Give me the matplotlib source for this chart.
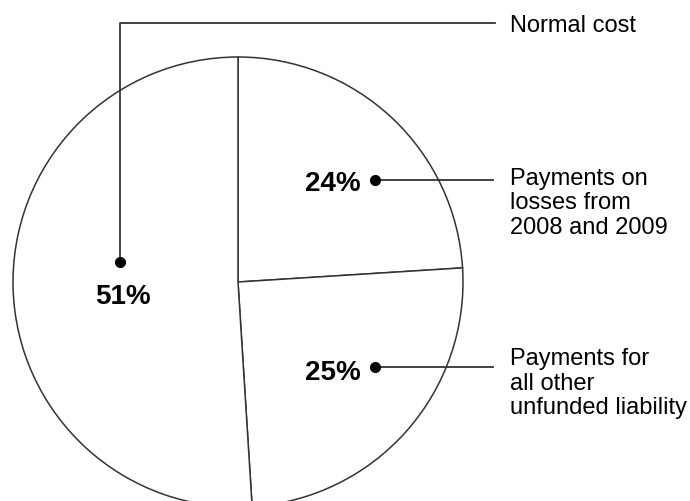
import matplotlib.pyplot as plt

# shares of the pie (clockwise from the top)
labels = ["Payments on\nlosses from\n2008 and 2009",
          "Payments for\nall other\nunfunded liability",
          "Normal cost"]
shares = [24, 25, 51]
pct_text = [f"{v}%" for v in shares]

plt.rcParams['font.family'] = ['Liberation Sans', 'DejaVu Sans']

fig = plt.figure(figsize=(6.9, 5.01), dpi=100)
ax = fig.add_axes([0, 0, 1, 1])

# pie drawn in pixel-like coordinates (y axis inverted)
ax.pie(shares, center=(238, 282), radius=225, startangle=-90, counterclock=True,
       colors=['white'] * 3,
       wedgeprops=dict(edgecolor='#333333', linewidth=1.1))

ax.set_xlim(0, 690)
ax.set_ylim(501, 0)
ax.set_aspect('equal')
ax.axis('off')

lc = '#333333'
# 24% callout
ax.plot([375, 493], [180, 180], color=lc, lw=1.3)
ax.plot(375, 180, 'o', color='black', ms=7)
ax.text(361, 191, pct_text[0], ha='right', va='baseline', fontsize=20, fontweight='bold')
ax.text(510, 168, labels[0], ha='left', va='top', fontsize=17, linespacing=1.14)

# 25% callout
ax.plot([375, 493], [367, 367], color=lc, lw=1.3)
ax.plot(375, 367, 'o', color='black', ms=7)
ax.text(361, 380, pct_text[1], ha='right', va='baseline', fontsize=20, fontweight='bold')
ax.text(510, 348.5, labels[1], ha='left', va='top', fontsize=17, linespacing=1.14)

# 51% callout
ax.plot([120, 120, 495], [262, 23, 23], color=lc, lw=1.3)
ax.plot(120, 262, 'o', color='black', ms=7)
ax.text(123, 304, pct_text[2], ha='center', va='baseline', fontsize=20, fontweight='bold')
ax.text(510, 32, labels[2], ha='left', va='baseline', fontsize=17)

fig.savefig('out.png', dpi=100)
